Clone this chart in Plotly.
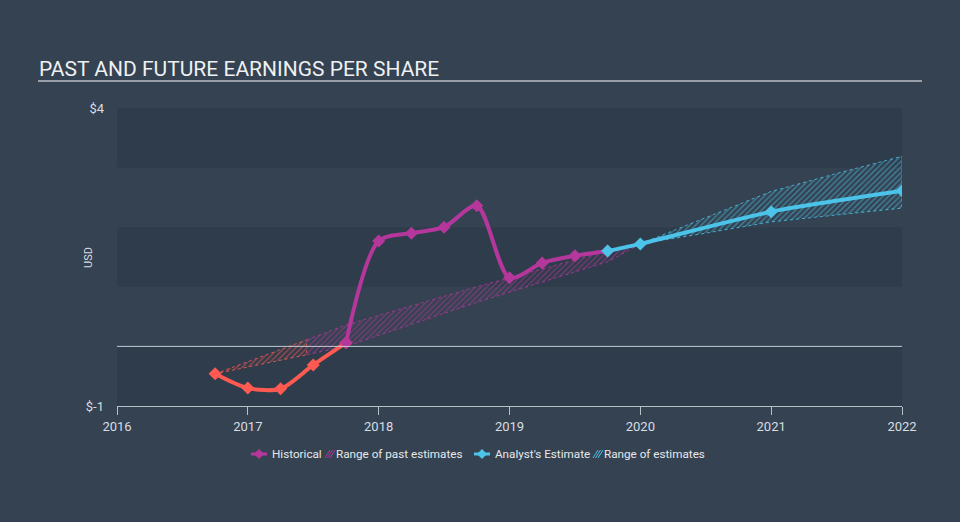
import plotly.graph_objects as go

# ---- data ----
hist_x = [2016.75, 2017.0, 2017.25, 2017.5, 2017.75, 2018.0, 2018.25, 2018.5, 2018.75, 2019.0, 2019.25, 2019.5, 2019.75]
hist_y = [-0.46, -0.70, -0.71, -0.31, 0.06, 1.77, 1.90, 2.00, 2.36, 1.15, 1.40, 1.52, 1.60]
neg_count = 5  # first points (red, below zero)

est_x = [2019.75, 2020.0, 2021.0, 2022.0]
est_y = [1.60, 1.72, 2.26, 2.61]

past_rng_x = [2016.75, 2017.45, 2017.75, 2018.75, 2019.75, 2020.0]
past_rng_hi = [-0.46, 0.11, 0.36, 1.00, 1.60, 1.72]
past_rng_lo = [-0.46, -0.14, 0.00, 0.74, 1.42, 1.72]
past_split = 2  # first segment drawn red

fut_rng_x = [2020.0, 2020.5, 2021.0, 2021.5, 2022.0]
fut_rng_hi = [1.72, 2.16, 2.60, 2.90, 3.19]
fut_rng_lo = [1.72, 1.90, 2.09, 2.21, 2.32]

years = [2016, 2017, 2018, 2019, 2020, 2021, 2022]
y_ticks = [-1, 4]
y_tick_text = ["$-1", "$4"]

legend_labels = ["Historical", "Range of past estimates", "Analyst's Estimate", "Range of estimates"]

RED = "#ff5a52"
MAG = "#b5379c"
CYAN = "#4cc3e8"
BG = "#344251"
DARK = "#2f3c4b"
TXT = "#d8dde2"

# plot area in pixels
L, R, T, B = 117, 902, 108, 406
def px(x):
    return (x - L) / (R - L)
def py(y):
    return (B - y) / (B - T)

fig = go.Figure()

def band(xs, hi, lo, color):
    fig.add_trace(go.Scatter(
        x=list(xs) + list(xs)[::-1], y=list(hi) + list(lo)[::-1],
        fill="toself", mode="lines",
        line=dict(color=color, width=0.8, dash="dot"),
        fillcolor="rgba(0,0,0,0)",
        fillpattern=dict(shape="/", fgcolor=color, bgcolor="rgba(0,0,0,0)", size=4, solidity=0.35),
        showlegend=False, hoverinfo="skip"))

band(past_rng_x[:past_split], past_rng_hi[:past_split], past_rng_lo[:past_split], RED)
band(past_rng_x[past_split - 1:], past_rng_hi[past_split - 1:], past_rng_lo[past_split - 1:], MAG)
band(fut_rng_x, fut_rng_hi, fut_rng_lo, CYAN)

fig.add_trace(go.Scatter(x=hist_x[:neg_count], y=hist_y[:neg_count], mode="lines+markers",
                         line=dict(color=RED, width=4, shape="spline", smoothing=0.8),
                         marker=dict(symbol="diamond", size=10, color=RED), showlegend=False))
fig.add_trace(go.Scatter(x=hist_x[neg_count - 1:], y=hist_y[neg_count - 1:], mode="lines+markers",
                         line=dict(color=MAG, width=4, shape="spline", smoothing=0.8),
                         marker=dict(symbol="diamond", size=10, color=MAG), showlegend=False))
fig.add_trace(go.Scatter(x=est_x, y=est_y, mode="lines+markers",
                         line=dict(color=CYAN, width=4, shape="spline", smoothing=0.6),
                         marker=dict(symbol="diamond", size=10, color=CYAN), showlegend=False))

shapes = []
for lo_v, hi_v in [(-1, 0), (1, 2), (3, 4)]:
    shapes.append(dict(type="rect", xref="paper", yref="y", x0=0, x1=1, y0=lo_v, y1=hi_v,
                       fillcolor=DARK, line=dict(width=0), layer="below"))
shapes.append(dict(type="line", xref="paper", yref="y", x0=0, x1=1, y0=0, y1=0,
                   line=dict(color="#c3cad2", width=1), layer="above"))
shapes.append(dict(type="line", xref="paper", yref="paper", x0=px(38), x1=px(922), y0=py(81), y1=py(81),
                   line=dict(color="#b8bec6", width=1.5)))

annotations = [dict(text="PAST AND FUTURE EARNINGS PER SHARE", xref="paper", yref="paper",
                    x=px(37), y=py(69), xanchor="left", yanchor="middle", showarrow=False,
                    font=dict(size=21, color="#eef0f2", family="Roboto"))]
annotations.append(dict(text="USD", xref="paper", yref="paper", x=px(88), y=py(258), textangle=-90,
                        showarrow=False, xanchor="center", yanchor="middle",
                        font=dict(size=11, color=TXT)))

# ---- custom compact legend ----
LY = 454
def legend_marker(cx, color):
    shapes.append(dict(type="line", xref="paper", yref="paper", x0=px(cx - 8), x1=px(cx + 8),
                       y0=py(LY), y1=py(LY), line=dict(color=color, width=3)))
    d = 5
    path = (f"M {px(cx - d)} {py(LY)} L {px(cx)} {py(LY - d)} L {px(cx + d)} {py(LY)} "
            f"L {px(cx)} {py(LY + d)} Z")
    shapes.append(dict(type="path", xref="paper", yref="paper", path=path,
                       fillcolor=color, line=dict(color=color, width=0)))

def legend_hatch(x0, color):
    for k in range(3):
        shapes.append(dict(type="line", xref="paper", yref="paper",
                           x0=px(x0 + k * 2.5), y0=py(LY + 4), x1=px(x0 + k * 2.5 + 5), y1=py(LY - 4),
                           line=dict(color=color, width=1)))

def legend_text(x0, text):
    annotations.append(dict(text=text, xref="paper", yref="paper", x=px(x0), y=py(LY),
                            xanchor="left", yanchor="middle", showarrow=False,
                            font=dict(size=11.7, color="#e6e9ec", family="Roboto")))

legend_marker(259, MAG)
legend_text(270, legend_labels[0])
legend_hatch(325, MAG)
legend_text(334, legend_labels[1])
legend_marker(482, CYAN)
legend_text(493, legend_labels[2])
legend_hatch(593, CYAN)
legend_text(602, legend_labels[3])

fig.update_layout(
    width=960, height=522,
    paper_bgcolor=BG, plot_bgcolor=BG,
    margin=dict(l=L, r=960 - R, t=T, b=522 - B),
    font=dict(family="Roboto", color=TXT, size=12),
    shapes=shapes, annotations=annotations, showlegend=False,
    xaxis=dict(range=[2016, 2022], tickvals=years, ticktext=[str(y) for y in years],
               showgrid=False, zeroline=False, showline=True, linecolor="#b8c0c8", linewidth=1,
               ticks="outside", ticklen=8, tickcolor="#b8c0c8", tickfont=dict(size=13, color=TXT)),
    yaxis=dict(range=[-1, 4], tickvals=y_ticks, ticktext=y_tick_text, showgrid=False, zeroline=False,
               showline=False, ticks="", ticklabelstandoff=12, tickfont=dict(size=13, color=TXT)),
)

fig.write_html("out.html")
